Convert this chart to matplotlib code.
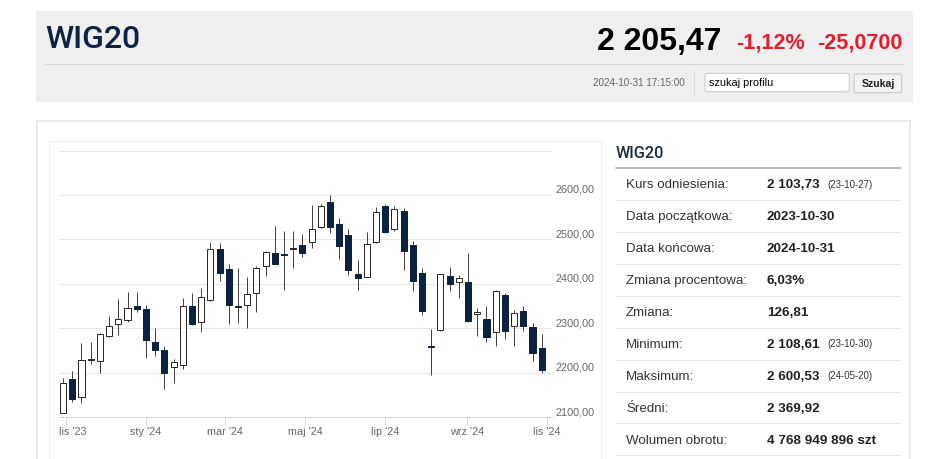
import datetime as dt
import matplotlib
matplotlib.use("Agg")
import matplotlib.pyplot as plt
import matplotlib.dates as mdates
import matplotlib.transforms as mtransforms
from matplotlib.patches import Rectangle, FancyBboxPatch

plt.rcParams['font.family'] = ['Liberation Sans', 'DejaVu Sans']

# weekly candles, week starting on monday
week_start = dt.date(2023, 10, 30)
opens = [2109, 2185, 2146, 2228, 2227, 2283, 2309, 2319, 2349, 2344,
         2268, 2250, 2212, 2218, 2350, 2314, 2364, 2478, 2433, 2351,
         2353, 2379, 2441, 2470, 2467, 2478, 2488, 2494, 2529, 2585,
         2535, 2510, 2422, 2416, 2495, 2576, 2523, 2565, 2488, 2425,
         2261, 2296, 2418, 2405, 2405, 2332, 2320, 2291, 2375, 2305,
         2339, 2302, 2255]
highs = [2188, 2204, 2266, 2270, 2289, 2328, 2366, 2381, 2381, 2352,
         2300, 2260, 2230, 2368, 2379, 2391, 2494, 2491, 2444, 2436,
         2416, 2440, 2475, 2530, 2519, 2519, 2513, 2577, 2580, 2600.5,
         2549, 2523, 2454, 2517, 2574, 2580, 2575, 2571, 2497, 2435,
         2298, 2423, 2437, 2420, 2470, 2345, 2349, 2386, 2380, 2341,
         2350, 2311, 2287]
lows = [2108.6, 2134, 2131, 2219, 2199, 2281, 2285, 2313, 2336, 2233,
        2238, 2163, 2176, 2208, 2307, 2291, 2362, 2407, 2310, 2311,
        2300, 2337, 2418, 2445, 2386, 2435, 2461, 2480, 2525, 2514,
        2455, 2420, 2386, 2416, 2491, 2514, 2520, 2430, 2383, 2330,
        2195, 2294, 2383, 2369, 2315, 2283, 2270, 2261, 2275, 2259,
        2293, 2227, 2200]
closes = [2176, 2140, 2229, 2231, 2287, 2306, 2320, 2346, 2343, 2274,
          2250, 2200, 2224, 2351, 2310, 2370, 2478, 2425, 2353, 2348,
          2377, 2435, 2472, 2445, 2464, 2481, 2470, 2523, 2575, 2529,
          2485, 2430, 2413, 2490, 2561, 2517, 2568, 2475, 2407, 2338,
          2257, 2422, 2400, 2414, 2317, 2336, 2280, 2383, 2293, 2334,
          2304, 2245, 2205.47]
dates = [week_start + dt.timedelta(weeks=i) for i in range(len(opens))]

y_ticks = [2100, 2200, 2300, 2400, 2500, 2600, 2700]
y_labels = ["2100,00", "2200,00", "2300,00", "2400,00", "2500,00", "2600,00", ""]
x_ticks = [dt.date(2023, 11, 1), dt.date(2024, 1, 1), dt.date(2024, 3, 1),
           dt.date(2024, 5, 1), dt.date(2024, 7, 1), dt.date(2024, 9, 1),
           dt.date(2024, 11, 1)]
x_labels = ["lis '23", "sty '24", "mar '24", "maj '24", "lip '24", "wrz '24", "lis '24"]

row_labels = ["Kurs odniesienia:", "Data początkowa:", "Data końcowa:",
              "Zmiana procentowa:", "Zmiana:", "Minimum:", "Maksimum:",
              "Średni:", "Wolumen obrotu:"]
row_values = ["2 103,73", "2023-10-30", "2024-10-31", "6,03%", "126,81",
              "2 108,61", "2 600,53", "2 369,92", "4 768 949 896 szt"]
row_notes = ["(23-10-27)", "", "", "", "", "(23-10-30)", "(24-05-20)", "", ""]

W, H = 948, 459
fig = plt.figure(figsize=(W / 100, H / 100), dpi=100)
fig.patch.set_facecolor("white")

# page layer in pixel coords
bg = fig.add_axes([0, 0, 1, 1])
bg.set_xlim(0, W)
bg.set_ylim(H, 0)
bg.axis("off")

PX = 0.72  # points per pixel

# header
bg.add_patch(Rectangle((36, 11), 876.7, 90.7, facecolor="#efefef", edgecolor="none"))
bg.plot([45, 903], [64, 64], color="#d6d6d6", lw=1 * PX)
bg.text(45, 48.5, "WIG20", fontsize=23, color="#0d2345",
        family=["Roboto", "DejaVu Sans"], fontweight="medium")
bg.text(596.7, 50, "2 205,47", fontsize=23, fontweight="bold", color="black")
bg.text(736, 48.3, "-1,12%", fontsize=15.6, fontweight="bold", color="#e41e2b")
bg.text(817, 48.3, "-25,0700", fontsize=15.6, fontweight="bold", color="#e41e2b")
bg.text(684.3, 86.3, "2024-10-31 17:15:00", fontsize=7.1, color="#666666", ha="right")
bg.plot([694.3, 694.3], [70.7, 94.3], color="#d9d9d9", lw=1 * PX)
bg.add_patch(FancyBboxPatch((705, 73.3), 144.3, 18.4, boxstyle="round,pad=0,rounding_size=2",
                            facecolor="white", edgecolor="#c8c8c8", lw=1 * PX))
bg.text(709.3, 86.5, "szukaj profilu", fontsize=7.8, color="black")
bg.add_patch(FancyBboxPatch((854, 74), 47.7, 18.7, boxstyle="round,pad=0,rounding_size=2",
                            facecolor="#f2f2f2", edgecolor="#c4c4c4", lw=1 * PX))
bg.text(878, 86.7, "Szukaj", fontsize=7.6, fontweight="bold", color="#222222", ha="center")

# panels
bg.add_patch(Rectangle((36.7, 121), 873.8, 345, facecolor="white", edgecolor="#ebebeb", lw=2 * PX))
bg.add_patch(Rectangle((49.3, 140.7), 551.7, 330, facecolor="white", edgecolor="#eeeeee", lw=1 * PX))

# info table
bg.text(616, 157.5, "WIG20", fontsize=11.7, color="#1b2a40",
        family=["Roboto", "DejaVu Sans"], fontweight="medium")
bg.plot([616, 900], [167.7, 167.7], color="#a8a8a8", lw=1.5 * PX)
for i, (lab, val, note) in enumerate(zip(row_labels, row_values, row_notes)):
    yc = 183.3 + 31.95 * i
    bg.text(626, yc + 4.8, lab, fontsize=9.6, color="#333333")
    bg.text(766.7, yc + 4.8, val, fontsize=9.7, fontweight="bold", color="#222222")
    if note:
        bg.text(827.7, yc + 4.2, note, fontsize=6.9, color="#333333")
    bg.plot([616, 900], [yc + 16.5, yc + 16.5], color="#e8e8e8", lw=1 * PX)

# candlestick chart
ax = fig.add_axes([59 / W, 1 - 417 / H, (551.7 - 59) / W, (417 - 150.6) / H])
ax.set_facecolor("none")
x0 = mdates.date2num(dt.date(2023, 11, 1))
ax.set_xlim(x0 - 5.1, x0 + 369.6)
ax.set_ylim(2100, 2700)

body_w = 4.6
for d, o, h, l, c in zip(dates, opens, highs, lows, closes):
    xd = mdates.date2num(d)
    ax.vlines(xd, l, h, color="#444444", lw=1 * PX, zorder=2)
    bottom = min(o, c)
    height = max(abs(c - o), 1.5)
    if c >= o:
        fc, ec = "white", "#2a2a2a"
    else:
        fc, ec = "#0b2240", "#0b2240"
    ax.add_patch(Rectangle((xd - body_w / 2, bottom), body_w, height,
                           facecolor=fc, edgecolor=ec, lw=1 * PX, zorder=3))

ax.set_yticks(y_ticks)
ax.set_yticklabels(y_labels)
ax.yaxis.tick_right()
ax.tick_params(axis="y", length=0, pad=3.5 * PX, labelsize=7.8, labelcolor="#666666")
for lab in ax.get_yticklabels():
    lab.set_va("bottom")
ax.grid(axis="y", color="#e6e6e6", lw=1 * PX, zorder=0)

ax.set_xticks([mdates.date2num(t) for t in x_ticks])
ax.set_xticklabels(x_labels)
ax.tick_params(axis="x", length=8 * PX, width=1 * PX, color="#ccd6eb",
               pad=2 * PX, labelsize=7.8, labelcolor="#666666")
first = ax.get_xticklabels()[0]
first.set_ha("left")
first.set_transform(first.get_transform() +
                    mtransforms.ScaledTranslation(-6.4 / 100, 0, fig.dpi_scale_trans))

for side in ["left", "right", "top"]:
    ax.spines[side].set_visible(False)
ax.spines["bottom"].set_color("#ccd6eb")
ax.spines["bottom"].set_linewidth(1 * PX)

fig.savefig("out.png", dpi=100)
